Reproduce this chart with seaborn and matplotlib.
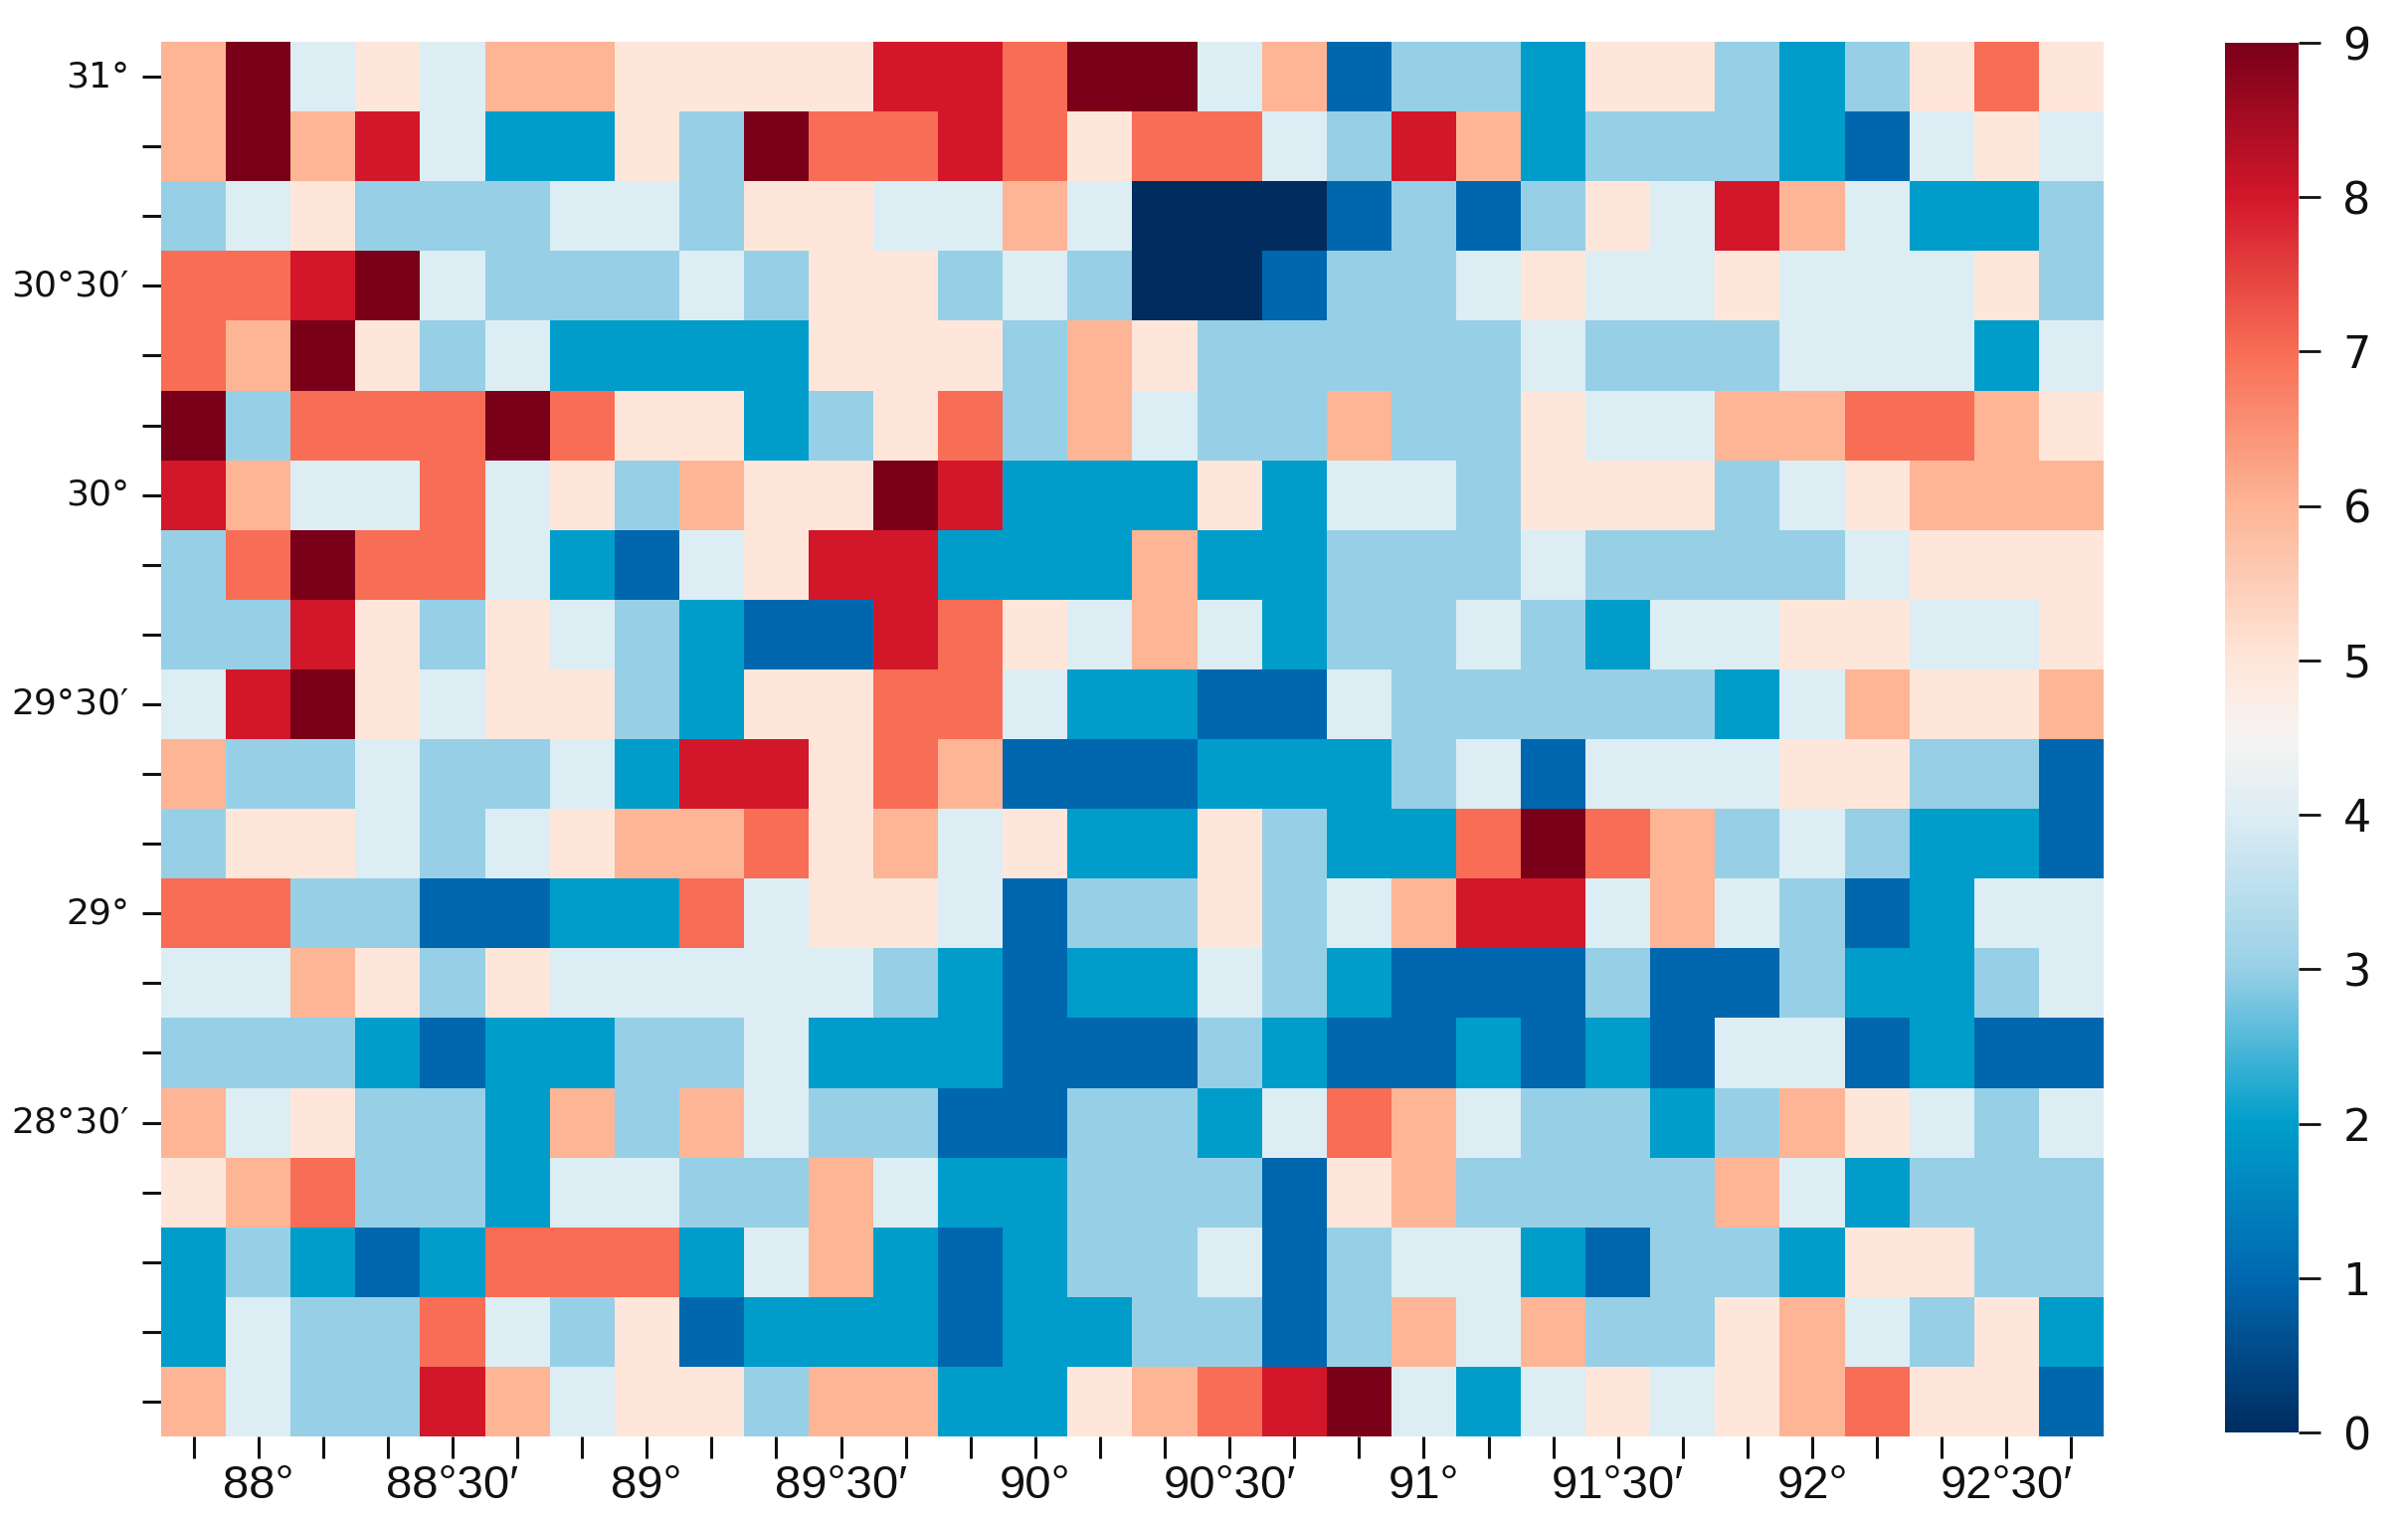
import numpy as np
import pandas as pd
import matplotlib
matplotlib.use("Agg")
import matplotlib.pyplot as plt
from matplotlib.colors import LinearSegmentedColormap
import seaborn as sns

# ---- data (grid values, rows top -> bottom) ----
row00 = [6,9,4,5,4,6,6,5,5,5,5,8,8,7,9,9,4,6,1,3,3,2,5,5,3,2,3,5,7,5]
row01 = [6,9,6,8,4,2,2,5,3,9,7,7,8,7,5,7,7,4,3,8,6,2,3,3,3,2,1,4,5,4]
row02 = [3,4,5,3,3,3,4,4,3,5,5,4,4,6,4,0,0,0,1,3,1,3,5,4,8,6,4,2,2,3]
row03 = [7,7,8,9,4,3,3,3,4,3,5,5,3,4,3,0,0,1,3,3,4,5,4,4,5,4,4,4,5,3]
row04 = [7,6,9,5,3,4,2,2,2,2,5,5,5,3,6,5,3,3,3,3,3,4,3,3,3,4,4,4,2,4]
row05 = [9,3,7,7,7,9,7,5,5,2,3,5,7,3,6,4,3,3,6,3,3,5,4,4,6,6,7,7,6,5]
row06 = [8,6,4,4,7,4,5,3,6,5,5,9,8,2,2,2,5,2,4,4,3,5,5,5,3,4,5,6,6,6]
row07 = [3,7,9,7,7,4,2,1,4,5,8,8,2,2,2,6,2,2,3,3,3,4,3,3,3,3,4,5,5,5]
row08 = [3,3,8,5,3,5,4,3,2,1,1,8,7,5,4,6,4,2,3,3,4,3,2,4,4,5,5,4,4,5]
row09 = [4,8,9,5,4,5,5,3,2,5,5,7,7,4,2,2,1,1,4,3,3,3,3,3,2,4,6,5,5,6]
row10 = [6,3,3,4,3,3,4,2,8,8,5,7,6,1,1,1,2,2,2,3,4,1,4,4,4,5,5,3,3,1]
row11 = [3,5,5,4,3,4,5,6,6,7,5,6,4,5,2,2,5,3,2,2,7,9,7,6,3,4,3,2,2,1]
row12 = [7,7,3,3,1,1,2,2,7,4,5,5,4,1,3,3,5,3,4,6,8,8,4,6,4,3,1,2,4,4]
row13 = [4,4,6,5,3,5,4,4,4,4,4,3,2,1,2,2,4,3,2,1,1,1,3,1,1,3,2,2,3,4]
row14 = [3,3,3,2,1,2,2,3,3,4,2,2,2,1,1,1,3,2,1,1,2,1,2,1,4,4,1,2,1,1]
row15 = [6,4,5,3,3,2,6,3,6,4,3,3,1,1,3,3,2,4,7,6,4,3,3,2,3,6,5,4,3,4]
row16 = [5,6,7,3,3,2,4,4,3,3,6,4,2,2,3,3,3,1,5,6,3,3,3,3,6,4,2,3,3,3]
row17 = [2,3,2,1,2,7,7,7,2,4,6,2,1,2,3,3,4,1,3,4,4,2,1,3,3,2,5,5,3,3]
row18 = [2,4,3,3,7,4,3,5,1,2,2,2,1,2,2,3,3,1,3,6,4,6,3,3,5,6,4,3,5,2]
row19 = [6,4,3,3,8,6,4,5,5,3,6,6,2,2,5,6,7,8,9,4,2,4,5,4,5,6,7,5,5,1]

x_labels_major = ["88°", "88°30′", "89°", "89°30′", "90°",
                  "90°30′", "91°", "91°30′", "92°", "92°30′"]
y_labels_major = ["31°", "30°30′", "30°", "29°30′", "29°", "28°30′"]
cbar_ticks = [0, 1, 2, 3, 4, 5, 6, 7, 8, 9]

rows = [row00, row01, row02, row03, row04, row05, row06, row07, row08, row09,
        row10, row11, row12, row13, row14, row15, row16, row17, row18, row19]
df = pd.DataFrame(np.array(rows, dtype=float))

n_rows, n_cols = df.shape
xticklabels = [""] * n_cols
for i, lab in enumerate(x_labels_major):
    xticklabels[1 + 3 * i] = lab
yticklabels = [""] * n_rows
for i, lab in enumerate(y_labels_major):
    yticklabels[3 * i] = lab

# ---- colormap ----
anchors = [
    (0.0 / 9, "#002c60"),
    (1.0 / 9, "#0068b0"),
    (2.0 / 9, "#009ecb"),
    (3.0 / 9, "#98d0e6"),
    (4.0 / 9, "#ddedf4"),
    (4.5 / 9, "#f6f4f2"),
    (5.0 / 9, "#fee6da"),
    (6.0 / 9, "#fdb596"),
    (7.0 / 9, "#f86e55"),
    (8.0 / 9, "#d3172b"),
    (9.0 / 9, "#7a0019"),
]
cmap = LinearSegmentedColormap.from_list("custom_rdbu", anchors, N=512)

# ---- figure ----
sns.set_theme(style="white")
plt.rcParams["font.family"] = ["DejaVu Sans"]

W, H = 2421, 1528
fig = plt.figure(figsize=(W / 100, H / 100), dpi=100)
ax = fig.add_axes([162 / W, 1 - 1444 / H, (2115 - 162) / W, (1444 - 42) / H])
cax = fig.add_axes([2237 / W, 1 - 1440 / H, (2311 - 2237) / W, (1440 - 43) / H])

sns.heatmap(df, cmap=cmap, vmin=0, vmax=9, ax=ax, cbar_ax=cax,
            xticklabels=xticklabels, yticklabels=yticklabels,
            cbar_kws={"ticks": cbar_ticks})

ax.tick_params(axis="x", bottom=True, length=16, width=2.2, color="#111111",
               pad=4, labelsize=34, rotation=0)
ax.tick_params(axis="y", left=True, length=14, width=2.2, color="#111111",
               pad=9, labelsize=26, rotation=0)
for t in ax.get_xticklabels():
    t.set_family(["Liberation Sans", "DejaVu Sans"])
    t.set_color("#111111")
for t in ax.get_yticklabels():
    t.set_color("#111111")
    t.set_verticalalignment("center")

cax.tick_params(axis="y", right=True, length=16, width=2.0, color="#111111",
                pad=16, labelsize=32, labelcolor="#111111")

fig.savefig("out.png", dpi=100, facecolor="white")
